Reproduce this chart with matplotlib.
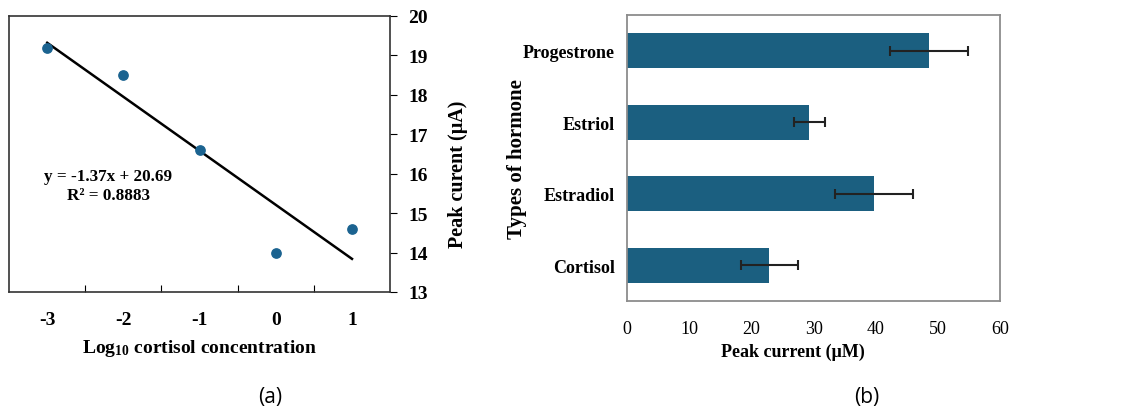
import matplotlib
matplotlib.use("Agg")
import matplotlib.pyplot as plt

# panel (a): calibration
log_conc = [-3, -2, -1, 0, 1]
peak_a = [19.2, 18.5, 16.6, 14.0, 14.6]
fit_x = [-3, 1]
fit_y = [19.32, 13.84]

# panel (b): selectivity
hormones = ["Cortisol", "Estradiol", "Estriol", "Progestrone"]
peak_b = [22.9, 39.7, 29.3, 48.5]
err_b = [4.6, 6.2, 2.45, 6.3]

blue = "#1b5f80"
serif = "Liberation Serif"
plt.rcParams["mathtext.fontset"] = "custom"
plt.rcParams["mathtext.rm"] = "Liberation Serif:bold"
plt.rcParams["mathtext.it"] = "Liberation Serif:bold"
plt.rcParams["mathtext.bf"] = "Liberation Serif:bold"

fig = plt.figure(figsize=(11.34, 4.14), dpi=100)

ax1 = fig.add_axes([0.008, 0.2923, 0.336, 0.6667])
ax1.plot(fit_x, fit_y, color="black", lw=1.8, zorder=2)
ax1.scatter(log_conc, peak_a, s=45, color="#1b6390", zorder=3)
ax1.set_xlim(-3.5, 1.5)
ax1.set_ylim(13, 20)
ax1.yaxis.tick_right()
ax1.yaxis.set_label_position("right")
ax1.set_yticks(range(13, 21))
ax1.set_xticks([-2.5, -1.5, -0.5, 0.5])
ax1.set_xticklabels([])
ax1.set_xticks(log_conc, minor=True)
ax1.set_xticklabels([str(v) for v in log_conc], minor=True)
ax1.tick_params(axis="x", which="minor", length=0, pad=14)
ax1.tick_params(axis="x", which="major", length=5, direction="in")
ax1.tick_params(axis="y", length=5, direction="out", pad=8)
for lab in ax1.get_xticklabels(minor=True) + ax1.get_yticklabels():
    lab.set_fontfamily(serif)
    lab.set_fontweight("bold")
    lab.set_fontsize(14)
for s in ax1.spines.values():
    s.set_color("#333333")
    s.set_linewidth(1.2)
ax1.set_xlabel("Log$_{10}$ cortisol concentration", fontfamily=serif,
               fontweight="bold", fontsize=14, labelpad=6)
ax1.set_ylabel("Peak curent (μA)", fontfamily=serif, fontweight="bold",
               fontsize=14.5)
ax1.yaxis.set_label_coords(1.152, 0.43)
ax1.text(-2.2, 15.71, "y = -1.37x + 20.69\nR² = 0.8883", ha="center", va="center",
         fontfamily=serif, fontweight="bold", fontsize=12.3, linespacing=1.25)

ax2 = fig.add_axes([0.553, 0.2705, 0.329, 0.691])
ax2.barh(hormones, peak_b, height=0.49, color=blue, zorder=2)
ax2.errorbar(peak_b, range(len(hormones)), xerr=err_b, fmt="none",
             ecolor="#222222", elinewidth=1.5, capsize=3.5, capthick=1.5, zorder=3)
ax2.set_xlim(0, 60)
ax2.set_ylim(-0.5, 3.5)
ax2.set_xticks(range(0, 61, 10))
ax2.tick_params(axis="x", length=0, pad=14, labelsize=13)
ax2.tick_params(axis="y", length=0, pad=9, labelsize=13)
for lab in ax2.get_xticklabels():
    lab.set_fontfamily(serif)
for lab in ax2.get_yticklabels():
    lab.set_fontfamily(serif)
    lab.set_fontweight("bold")
for s in ax2.spines.values():
    s.set_color("#8c8c8c")
    s.set_linewidth(1.3)
ax2.set_xlabel("Peak current (μM)", fontfamily=serif, fontweight="bold",
               fontsize=13)
ax2.xaxis.set_label_coords(0.445, -0.145)
ax2.set_ylabel("Types of hormone", fontfamily=serif, fontweight="bold",
               fontsize=15)
ax2.yaxis.set_label_coords(-0.268, 0.5)

fig.text(0.238, 0.04, "(a)", ha="center", va="center", fontfamily="Open Sans", fontsize=15)
fig.text(0.764, 0.04, "(b)", ha="center", va="center", fontfamily="Open Sans", fontsize=15)

fig.savefig("out.png", dpi=100)
